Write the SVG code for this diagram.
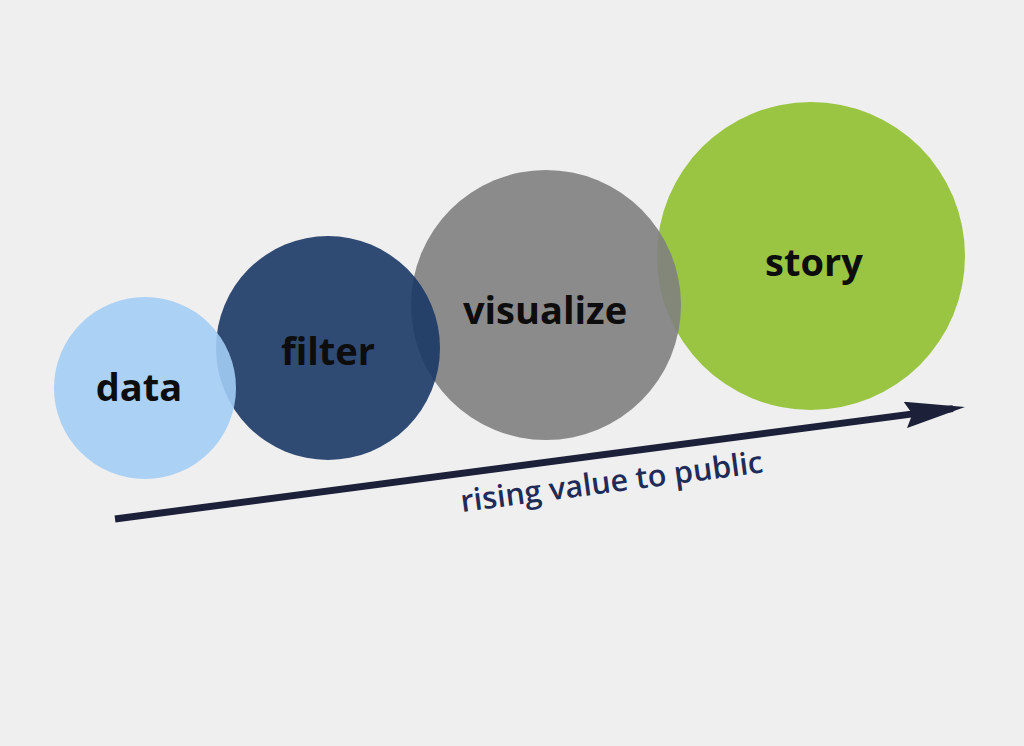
<svg xmlns="http://www.w3.org/2000/svg" width="1024" height="746" viewBox="0 0 1024 746">
  <style>
    .bubble { opacity: 0.9; }
    .label { font-family: "Open Sans", "Liberation Sans", sans-serif; font-weight: 700; font-size: 38px; fill: #0d0d0d; text-anchor: middle; }
    .caption { font-family: "Open Sans", "Liberation Sans", sans-serif; font-weight: 600; font-size: 30.5px; fill: #1f2b58; }
  </style>
  <defs>
    <marker id="head" viewBox="0 0 10 10" refX="8" refY="5" markerWidth="8.6" markerHeight="3.8" markerUnits="strokeWidth" orient="auto" preserveAspectRatio="none">
      <path d="M0,0 L10,5 L0,10 L1.2,5 Z" fill="#1c2038"/>
    </marker>
  </defs>
  <rect width="1024" height="746" fill="#efefef"/>

  <g id="story">
    <circle class="bubble" cx="811" cy="256" r="154" fill="#8fc030"/>
    <text class="label" x="814" y="276">story</text>
  </g>
  <g id="visualize">
    <circle class="bubble" cx="546" cy="305" r="135" fill="#808080"/>
    <text class="label" x="545" y="324">visualize</text>
  </g>
  <g id="filter">
    <circle class="bubble" cx="328" cy="348" r="112" fill="#1a3765"/>
    <text class="label" x="328" y="365">filter</text>
  </g>
  <g id="data">
    <circle class="bubble" cx="145" cy="388" r="91" fill="#a3cdf5"/>
    <text class="label" x="139" y="401">data</text>
  </g>

  <g id="connectors">
    <line x1="115" y1="519" x2="953" y2="408.6" stroke="#1c2038" stroke-width="7" marker-end="url(#head)"/>
    <text class="caption" transform="translate(462,512) rotate(-7.5)">rising value to public</text>
  </g>
</svg>
